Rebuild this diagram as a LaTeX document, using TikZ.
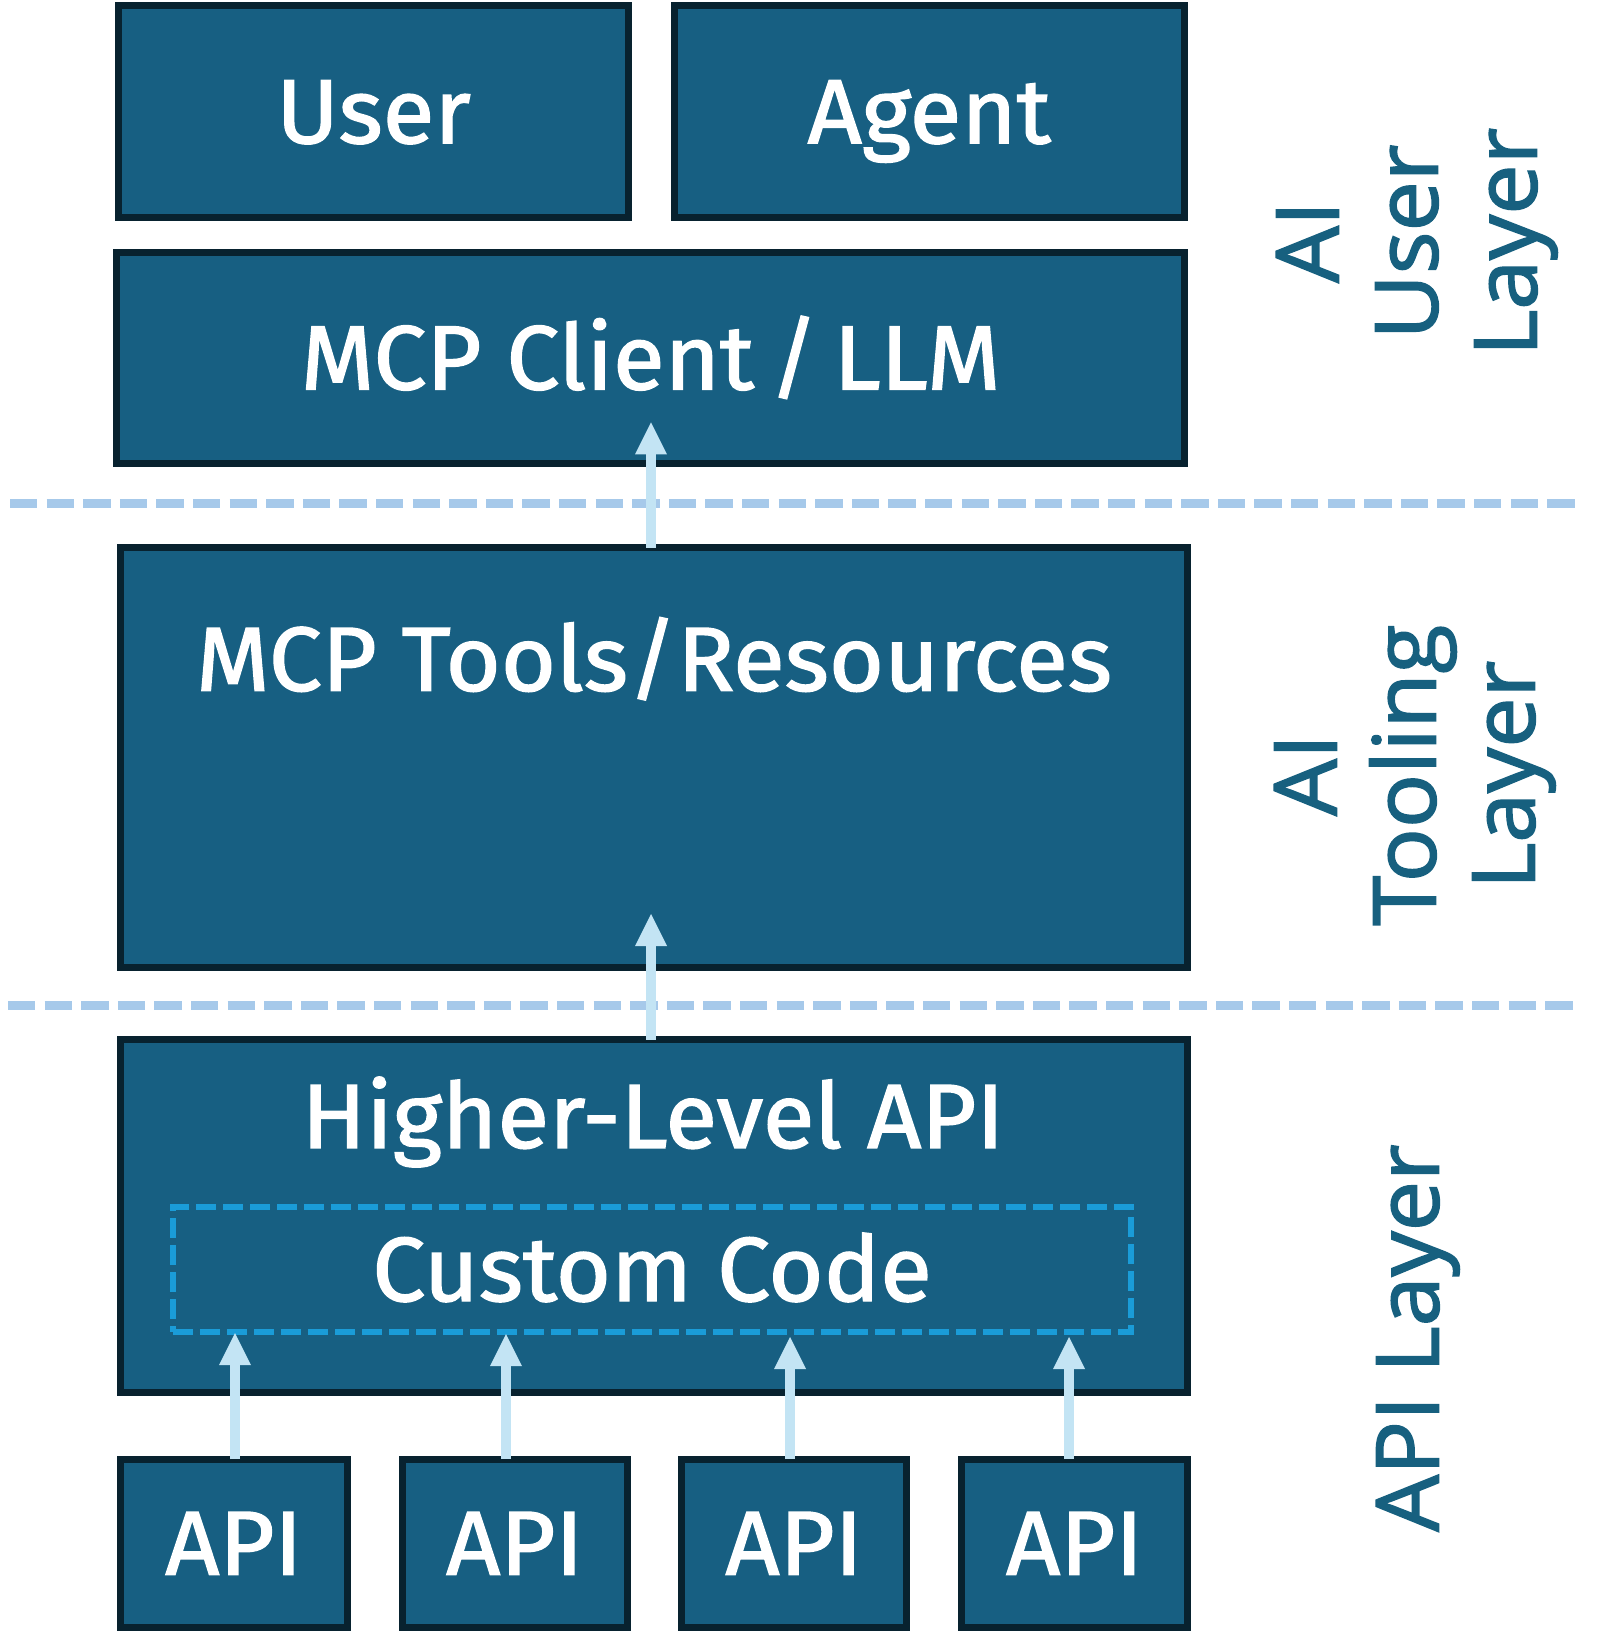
\documentclass[tikz,border=0pt]{standalone}
\usepackage{fontspec}
\setmainfont{Fira Sans}[FakeBold=1.6, FakeStretch=1.04]
\newfontfamily\sidefont{Open Sans}[FakeBold=1.8, FakeStretch=1.03]
\usetikzlibrary{arrows.meta}
\definecolor{boxfill}{HTML}{175F82}
\definecolor{boxline}{HTML}{08222F}
\definecolor{sidecol}{HTML}{17607F}
\definecolor{dashcol}{HTML}{A6C9EA}
\definecolor{arrowcol}{HTML}{C3E4F4}
\definecolor{customcol}{HTML}{1A9CD8}
\begin{document}
\begin{tikzpicture}[x=1pt,y=-1pt,
  boxtext/.style={text=white, inner sep=0pt, font=\fontsize{91}{100}\selectfont, text height=63pt, text depth=0pt},
  box/.style={boxtext, draw=boxline, fill=boxfill, line width=7pt, rectangle},
  custombox/.style={boxtext, draw=customcol, line width=6.5pt, dash pattern=on 20pt off 7pt, rectangle},
  sidelbl/.style={text=sidecol, font=\sidefont\fontsize{87}{99}\selectfont, rotate=90, anchor=north, align=center, inner sep=0pt},
  layerline/.style={draw=dashcol, line width=9pt, dash pattern=on 27.3pt off 9.3pt},
  uparrow/.style={draw=arrowcol, line width=10.7pt, -{Triangle[width=32pt,length=32pt,line width=0pt]}}
]
\useasboundingbox (0,0) rectangle (1608,1645);

% layer separators
\coordinate (d1a) at (10,503.5);
\coordinate (d1b) at (1578,503.5);
\coordinate (d2a) at (8,1005.5);
\coordinate (d2b) at (1578,1005.5);
\draw[layerline] (d1a) -- (d1b);
\draw[layerline] (d2a) -- (d2b);

% AI user layer
\node[box, minimum width=510.6pt, minimum height=211.7pt] (user) at (373.5,111.65) {User};
\node[box, minimum width=510pt, minimum height=211.7pt] (agent) at (929.2,111.65) {Agent};
\node[box, minimum width=1067.7pt, minimum height=210.7pt] (client) at (650.65,357.85) {MCP Client\,/\,LLM};

% AI tooling layer
\node[box, minimum width=1067.6pt, minimum height=420pt] (tools) at (654,757.8) {};
\node[boxtext, anchor=north] (toolstxt) at (654,627.5) {MCP Tools/Resources};

% API layer
\node[box, minimum width=1067.6pt, minimum height=353pt] (higher) at (654,1216) {};
\node[boxtext, anchor=north] (highertxt) at (653,1084.6) {Higher-Level API};
\node[custombox, minimum width=958pt, minimum height=125pt] (custom) at (652,1269.5) {Custom Code};

\node[box, minimum width=227pt, minimum height=168pt] (api1) at (233.85,1543.2) {API};
\node[box, minimum width=225.5pt, minimum height=168pt] (api2) at (514.75,1543.2) {API};
\node[box, minimum width=225pt, minimum height=168pt] (api3) at (794,1543.2) {API};
\node[box, minimum width=226.3pt, minimum height=168pt] (api4) at (1074.65,1543.2) {API};

% arrows
\coordinate (tipA) at (651,422.3);
\coordinate (tipB) at (651,914);
\coordinate (tip1) at (235,1333);
\coordinate (tip2) at (506,1334);
\coordinate (tip3) at (790,1337);
\coordinate (tip4) at (1069,1337);
\draw[uparrow, shorten <=-3.5pt] (tipA |- tools.north) -- (tipA);
\draw[uparrow, shorten <=-3.5pt] (tipB |- higher.north) -- (tipB);
\draw[uparrow, shorten <=-3.5pt] (tip1 |- api1.north) -- (tip1);
\draw[uparrow, shorten <=-3.5pt] (tip2 |- api2.north) -- (tip2);
\draw[uparrow, shorten <=-3.5pt] (tip3 |- api3.north) -- (tip3);
\draw[uparrow, shorten <=-3.5pt] (tip4 |- api4.north) -- (tip4);

% side labels
\node[sidelbl] (lay1) at (1276,242) {AI\\User\\Layer};
\node[sidelbl] (lay2) at (1274,775) {AI\\Tooling\\Layer};
\node[sidelbl] (lay3) at (1376,1338) {API Layer};
\end{tikzpicture}
\end{document}
